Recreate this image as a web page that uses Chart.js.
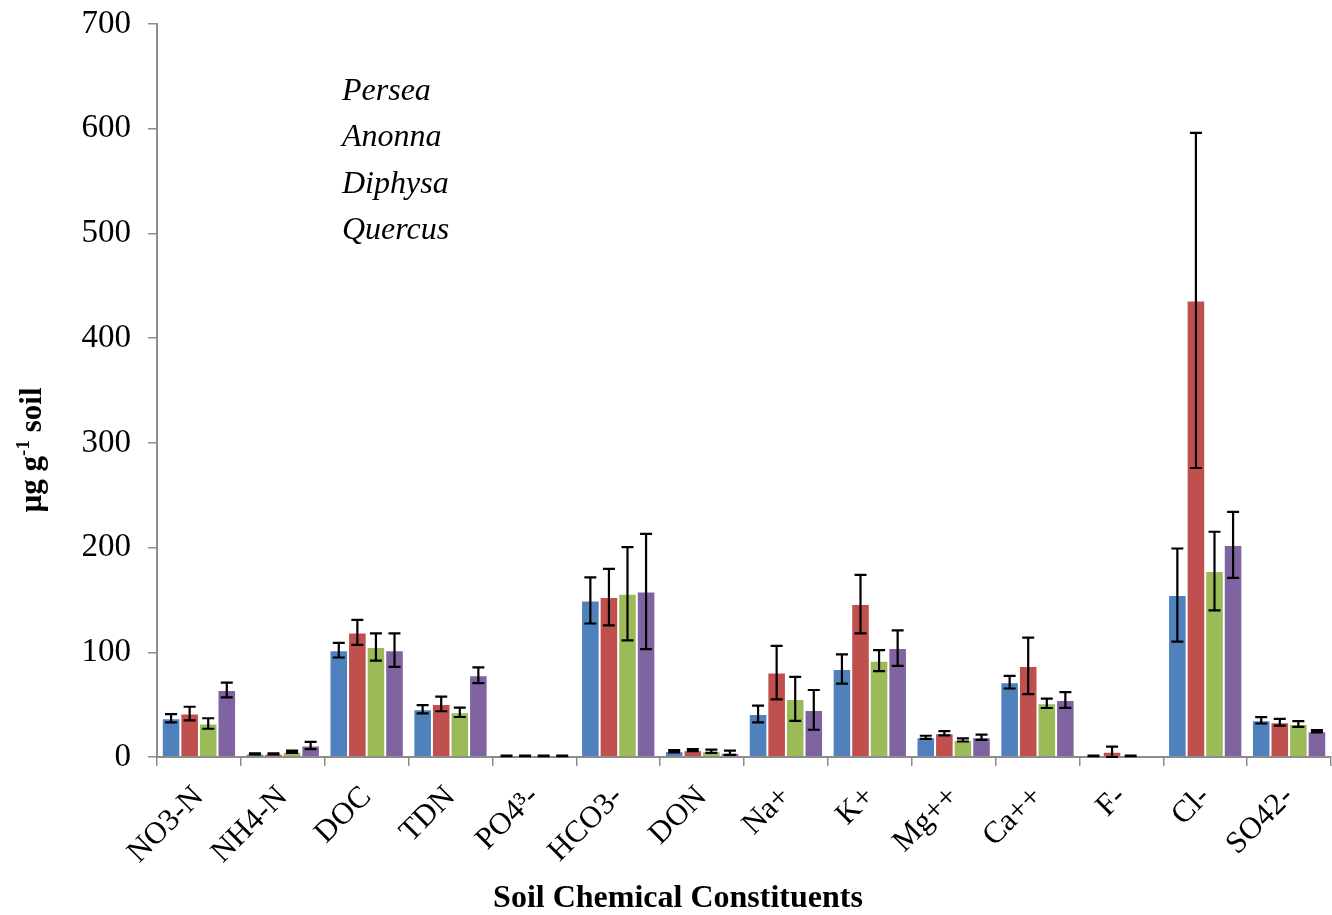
<!DOCTYPE html>
<html>
<head>
<meta charset="utf-8">
<title>Soil Chemical Constituents</title>
<script src="https://cdn.jsdelivr.net/npm/chart.js@4.4.1/dist/chart.umd.min.js"></script>
<style>
  html, body { margin: 0; padding: 0; background: #ffffff; }
  #wrap { width: 1332px; height: 915px; position: relative; }
</style>
</head>
<body>
<div id="wrap"><canvas id="chart" width="1332" height="915"></canvas></div>
<script>
// Soil chemical constituents (µg g-1 soil) under four tree species
const categories = ['NO3-N', 'NH4-N', 'DOC', 'TDN', 'PO4\u00B3-', 'HCO3-', 'DON',
                    'Na+', 'K+', 'Mg++', 'Ca++', 'F-', 'Cl-', 'SO42-'];

const persea     = [37,   3,   102, 45.6, 1,   149.5, 5.5, 41,   84,  18.8, 71.4, 1,   154.6, 35];
const perseaErr  = [4,    0.5, 7,   4,    0.3, 22,    1,   8,    14,  1.5,  6,    0.3, 44.5,  3];
const anonna     = [41.5, 3,   119, 50.7, 1,   152.7, 6.5, 80.6, 146, 22.7, 87,   5,   436,   33.2];
const anonnaErr  = [6.5,  0.5, 12,  7,    0.3, 27,    1,   25.5, 28,  2,    27,   5,   160,   3.3];
const diphysa    = [32,   5,   105, 42.7, 1,   155.9, 5.5, 55.5, 92,  16.3, 51.3, 1,   177.6, 31.5];
const diphysaErr = [5,    1,   13,  4.5,  0.3, 44.5,  1.5, 21,   10,  1.5,  4.5,  0.3, 37.5,  2.8];
const quercus    = [64,   11,  102, 78,   1,   158,   4,   45,   104, 18.8, 54.5, 0,   202.5, 24.6];
const quercusErr = [7,    3.5, 16,  7.5,  0.3, 55,    2,   19,   17,  2.5,  7.5,  0,   31.5,  1];

const yTicks = [0, 100, 200, 300, 400, 500, 600, 700];

const seriesNames = ['Persea', 'Anonna', 'Diphysa', 'Quercus'];
const seriesColors = ['#4F81BD', '#C0504D', '#9BBB59', '#8064A2'];

const SERIF = '"Liberation Serif", "Times New Roman", serif';
const AXIS_GREY = '#8c8c8c';

// Draws ± error bars with caps on top of every bar
const errorBars = {
  id: 'errorBars',
  afterDatasetsDraw(chart) {
    const ctx = chart.ctx;
    const y = chart.scales.y;
    ctx.save();
    ctx.strokeStyle = '#000000';
    ctx.lineWidth = 2.2;
    chart.data.datasets.forEach((ds, di) => {
      const meta = chart.getDatasetMeta(di);
      meta.data.forEach((bar, i) => {
        const e = ds.errors[i];
        if (!e) return;
        const v = ds.data[i];
        const yTop = y.getPixelForValue(v + e);
        const yBot = y.getPixelForValue(Math.max(v - e, 0));
        const cap = 6;
        ctx.beginPath();
        ctx.moveTo(bar.x, yTop); ctx.lineTo(bar.x, yBot);
        ctx.moveTo(bar.x - cap, yTop); ctx.lineTo(bar.x + cap, yTop);
        ctx.moveTo(bar.x - cap, yBot); ctx.lineTo(bar.x + cap, yBot);
        ctx.stroke();
      });
    });
    ctx.restore();
  }
};

// Species names in italics, axis titles (with superscript unit)
const annotations = {
  id: 'annotations',
  afterDraw(chart) {
    const ctx = chart.ctx;
    ctx.save();
    ctx.fillStyle = '#000000';

    // species list
    ctx.font = 'italic 32px ' + SERIF;
    ctx.textAlign = 'left';
    ctx.textBaseline = 'alphabetic';
    chart.data.datasets.forEach((ds, i) => {
      ctx.fillText(ds.label, 342, 100 + i * 46.3);
    });

    // x axis title
    ctx.font = 'bold 32px ' + SERIF;
    ctx.textAlign = 'center';
    ctx.fillText('Soil Chemical Constituents', 678, 907);

    // y axis title: µg g^-1 soil
    const main = 'bold 31px ' + SERIF;
    const sup = 'bold 19px ' + SERIF;
    const parts = [['\u00B5g g', main, 0], ['-1', sup, -12], [' soil', main, 0]];
    let total = 0;
    parts.forEach(p => { ctx.font = p[1]; total += ctx.measureText(p[0]).width; });
    ctx.translate(41, 450);
    ctx.rotate(-Math.PI / 2);
    ctx.textAlign = 'left';
    let x = -total / 2;
    parts.forEach(p => {
      ctx.font = p[1];
      ctx.fillText(p[0], x, p[2]);
      x += ctx.measureText(p[0]).width;
    });
    ctx.restore();
  }
};

const values = [persea, anonna, diphysa, quercus];
const errors = [perseaErr, anonnaErr, diphysaErr, quercusErr];

const datasets = seriesNames.map((name, i) => ({
  label: name,
  data: values[i],
  errors: errors[i],
  backgroundColor: seriesColors[i],
  borderColor: 'rgba(255,255,255,0.55)',
  borderWidth: 1,
  categoryPercentage: 0.886,
  barPercentage: 1.0
}));

new Chart(document.getElementById('chart'), {
  type: 'bar',
  data: { labels: categories, datasets },
  plugins: [errorBars, annotations],
  options: {
    responsive: false,
    animation: false,
    layout: { padding: { top: 24, right: 1, left: 0, bottom: 0 } },
    plugins: {
      legend: { display: false },
      tooltip: { enabled: false }
    },
    scales: {
      x: {
        grid: {
          display: true,
          drawOnChartArea: false,
          offset: true,
          tickLength: 9,
          color: AXIS_GREY,
          lineWidth: 1.5
        },
        border: { display: true, color: AXIS_GREY, width: 2 },
        ticks: {
          color: '#000000',
          font: { family: SERIF, size: 31 },
          minRotation: 45,
          maxRotation: 45,
          padding: 13,
          autoSkip: false
        },
        afterFit(scale) {
          scale.height = 158;
          scale.paddingLeft = 0;
          scale.paddingRight = 0;
        }
      },
      y: {
        min: 0,
        max: 700,
        afterBuildTicks(scale) { scale.ticks = yTicks.map(v => ({ value: v })); },
        grid: {
          display: true,
          drawOnChartArea: false,
          tickLength: 9,
          color: AXIS_GREY,
          lineWidth: 1.5
        },
        border: { display: true, color: AXIS_GREY, width: 2 },
        ticks: {
          color: '#000000',
          font: { family: SERIF, size: 33 },
          padding: 17
        },
        afterFit(scale) {
          scale.width = 157;
          scale.paddingTop = 0;
          scale.paddingBottom = 0;
        }
      }
    }
  }
});
</script>
</body>
</html>
